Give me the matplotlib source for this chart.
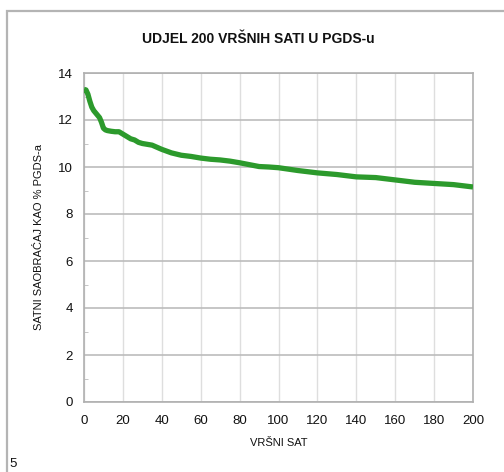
import matplotlib
matplotlib.use("Agg")
import matplotlib.pyplot as plt
from matplotlib.patches import Rectangle
from matplotlib.ticker import MultipleLocator

plt.rcParams['font.family'] = ['Liberation Sans', 'DejaVu Sans']

hours = [0, 1, 2, 3, 4, 5, 6, 7, 8, 9, 10, 11, 12, 14, 16, 18, 20, 22, 24, 26, 28, 30,
         35, 40, 45, 50, 55, 60, 65, 70, 75, 80, 85, 90, 95, 100, 110, 120, 130, 140,
         150, 160, 170, 180, 190, 200]
share = [13.3, 13.28, 13.1, 12.8, 12.55, 12.4, 12.3, 12.2, 12.1, 11.9, 11.65, 11.58,
         11.55, 11.52, 11.5, 11.5, 11.4, 11.3, 11.2, 11.15, 11.05, 11.0, 10.93, 10.75,
         10.6, 10.5, 10.45, 10.38, 10.33, 10.3, 10.25, 10.18, 10.1, 10.02, 10.0, 9.97,
         9.85, 9.75, 9.68, 9.58, 9.55, 9.45, 9.35, 9.3, 9.25, 9.15]
x_ticks = list(range(0, 201, 20))
y_ticks = list(range(0, 15, 2))

W, H = 504, 472
fig = plt.figure(figsize=(W / 100, H / 100), dpi=100)
ax = fig.add_axes([84 / W, 1 - 402 / H, (473 - 84) / W, (402 - 73) / H])

ax.plot(hours, share, color='#2c9a2c', lw=3.8, solid_capstyle='butt', zorder=3)

ax.set_xlim(0, 200)
ax.set_ylim(0, 14)
ax.set_xticks(x_ticks)
ax.set_yticks(y_ticks)
ax.yaxis.set_minor_locator(MultipleLocator(1))
ax.grid(axis='x', color='#dedede', lw=1.0)
ax.grid(axis='y', which='major', color='#bcbcbc', lw=1.2)
ax.set_axisbelow(True)
for s in ax.spines.values():
    s.set_color('#b0b0b0')
    s.set_linewidth(1.2)
ax.tick_params(axis='both', which='major', length=0, labelsize=9.5, colors='#111111', pad=8)
ax.tick_params(axis='y', which='minor', length=3, color='#bcbcbc', direction='in')
ax.tick_params(axis='x', pad=9)

ax.set_xlabel('VRŠNI SAT', fontsize=8, color='#111111', labelpad=8)
ax.set_ylabel('SATNI SAOBRAĆAJ KAO % PGDS-a', fontsize=8, color='#111111', labelpad=10)

fig.text(258 / W, 1 - 39 / H, 'UDJEL 200 VRŠNIH SATI U PGDS-u', ha='center', va='center',
         fontsize=10, fontweight='bold', color='#111111')

# outer chart frame
fig.patches.append(Rectangle((7 / W, -0.05), 1.1, 1 - 11 / H + 0.05, transform=fig.transFigure,
                             fill=False, edgecolor='#b4b4b4', lw=1.6))
fig.text(9 / W, 2 / H, '5', ha='left', va='bottom', fontsize=9.5, color='#111111')

fig.savefig('out.png', dpi=100)
